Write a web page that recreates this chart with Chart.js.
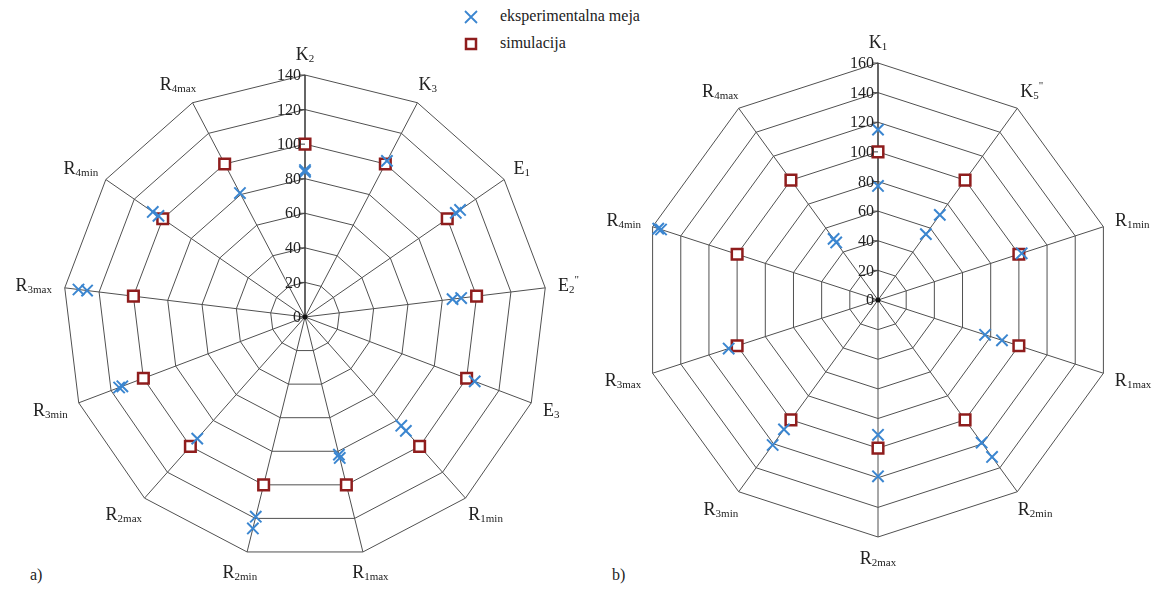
<!DOCTYPE html>
<html>
<head>
<meta charset="utf-8">
<script src="https://cdn.jsdelivr.net/npm/chart.js@4.4.1/dist/chart.umd.min.js"></script>
<style>
    body { margin: 0; background: #fff; width: 1168px; height: 590px; position: relative; overflow: hidden; font-family: "Times New Roman", "Liberation Serif", "DejaVu Serif", serif; color: #222; }
    canvas { position: absolute; top: 0; }
    #chartA { left: 0; }
    #chartB { left: 590px; }
    .leg { position: absolute; left: 462px; font-size: 16px; line-height: 20px; }
    .leg svg { vertical-align: middle; margin-right: 20px; }
    .tag { position: absolute; font-size: 16px; }
</style>
</head>
<body>
<div class="leg" style="top:6px"><svg width="18" height="18"><path d="M3 3 L15 15 M15 3 L3 15" stroke="#3b86d0" stroke-width="1.8" fill="none"/></svg>eksperimentalna meja</div>
<div class="leg" style="top:33px"><svg width="18" height="18"><rect x="4" y="4" width="10" height="10" fill="#fff" stroke="#8f1d1d" stroke-width="2.5"/></svg>simulacija</div>
<div class="tag" style="left:30px; top:566px">a)</div>
<div class="tag" style="left:612px; top:566px">b)</div>
<canvas id="chartA" width="580" height="590"></canvas>
<canvas id="chartB" width="578" height="590"></canvas>
<script>
// Diagram a)
const osiA = ['K2', 'K3', 'E1', 'E2*', 'E3', 'R1min', 'R1max', 'R2min', 'R2max', 'R3min', 'R3max', 'R4min', 'R4max'];
const simA = [100, 100, 100, 100, 100, 100, 100, 100, 100, 100, 100, 100, 100];
const ekspA1 = [84, 102, 106, 86, 105, 84, 82, 119, 94, 113, 127, 103, 81];
const ekspA2 = [85, null, 109, 91, null, 88, 84, 126, null, 115, 132, 107, null];
const ticksA = [0, 20, 40, 60, 80, 100, 120, 140];

// Diagram b)
const osiB = ['K1', 'K5*', 'R1min', 'R1max', 'R2min', 'R2max', 'R3min', 'R3max', 'R4min', 'R4max'];
const simB = [100, 100, 100, 100, 100, 100, 100, 100, 100, 100];
const ekspB1 = [115, 71, 102, 88, 131, 119, 121, 106, 154, 51];
const ekspB2 = [77, 55, null, 76, 119, 91, 108, null, 156, 48];
const ticksB = [0, 20, 40, 60, 80, 100, 120, 140, 160];

const MODRA = '#3b86d0';
const RDECA = '#8f1d1d';
const PISAVA = '"Times New Roman", "Liberation Serif", "DejaVu Serif", serif';

// Oznake osi s podpisanimi indeksi + vrednosti na navpicni osi
const radarOznake = {
    id: 'radarOznake',
    afterDraw(chart, args, opts) {
        const ctx = chart.ctx;
        const s = chart.scales.r;
        const R = s.drawingArea;
        ctx.save();

        // vrednosti na osi
        ctx.font = '16px ' + PISAVA;
        ctx.fillStyle = '#222';
        ctx.strokeStyle = '#444';
        ctx.lineWidth = 1;
        ctx.textAlign = 'right';
        ctx.textBaseline = 'middle';
        opts.ticks.forEach(v => {
            const y = s.yCenter - s.getDistanceFromCenterForValue(v);
            ctx.beginPath();
            ctx.moveTo(s.xCenter - 5, y);
            ctx.lineTo(s.xCenter, y);
            ctx.stroke();
            ctx.fillText(String(v), s.xCenter - 4, y + 1);
        });

        // sredisce
        ctx.beginPath();
        ctx.arc(s.xCenter, s.yCenter, 2.5, 0, Math.PI * 2);
        ctx.fillStyle = '#111';
        ctx.fill();

        // oznake osi
        ctx.textAlign = 'left';
        ctx.textBaseline = 'alphabetic';
        ctx.fillStyle = '#222';
        chart.data.labels.forEach((lab, i) => {
            const m = lab.match(/^([A-Z])([0-9a-z]*)(\*?)$/);
            const glavni = m[1], pod = m[2], nad = m[3] ? '"' : '';
            ctx.font = '18px ' + PISAVA;
            const w1 = ctx.measureText(glavni).width;
            ctx.font = '11px ' + PISAVA;
            const w2 = ctx.measureText(pod).width;
            const w3 = ctx.measureText(nad).width;
            const w = w1 + w2 + w3, h = 16;
            const a = s.getIndexAngle(i);
            const p = s.getPointPosition(i, R + 13);
            const cx = p.x + Math.sin(a) * w / 2;
            const cy = p.y - Math.cos(a) * h / 2;
            let x = cx - w / 2;
            const base = cy + 6;
            ctx.font = '18px ' + PISAVA;
            ctx.fillText(glavni, x, base);
            x += w1;
            ctx.font = '11px ' + PISAVA;
            ctx.fillText(pod, x, base + 2);
            x += w2;
            if (nad) ctx.fillText(nad, x, base - 8);
        });
        ctx.restore();
    }
};

function narisiRadar(id, osi, sim, eksp1, eksp2, ticks, maks, padding) {
    const eksp = (podatki) => ({
        label: 'eksperimentalna meja',
        data: podatki,
        showLine: false,
        fill: false,
        pointStyle: 'crossRot',
        pointRadius: 8,
        pointBorderColor: MODRA,
        pointBorderWidth: 2,
        pointBackgroundColor: MODRA
    });
    return new Chart(document.getElementById(id), {
        type: 'radar',
        data: {
            labels: osi,
            datasets: [
                eksp(eksp1),
                eksp(eksp2),
                {
                    label: 'simulacija',
                    data: sim,
                    showLine: false,
                    fill: false,
                    pointStyle: 'rect',
                    pointRadius: 7.5,
                    pointBorderColor: RDECA,
                    pointBorderWidth: 2.5,
                    pointBackgroundColor: '#fff'
                }
            ]
        },
        options: {
            responsive: false,
            animation: false,
            devicePixelRatio: 1,
            layout: { padding: padding },
            plugins: {
                legend: { display: false },
                tooltip: { enabled: false },
                radarOznake: { ticks: ticks }
            },
            scales: {
                r: {
                    min: 0,
                    max: maks,
                    ticks: { display: false, stepSize: 20 },
                    pointLabels: { display: false },
                    grid: { color: '#505050', lineWidth: 1 },
                    angleLines: {
                        color: (c) => c.index === 0 ? '#333' : '#505050',
                        lineWidth: (c) => c.index === 0 ? 1.5 : 1
                    }
                }
            }
        },
        plugins: [radarOznake]
    });
}

narisiRadar('chartA', osiA, simA, ekspA1, ekspA2, ticksA, 140, { left: 63, right: 33, top: 75, bottom: 31 });
narisiRadar('chartB', osiB, simB, ekspB1, ekspB2, ticksB, 160, { left: 51, right: 53, top: 63, bottom: 53 });
</script>
</body>
</html>
